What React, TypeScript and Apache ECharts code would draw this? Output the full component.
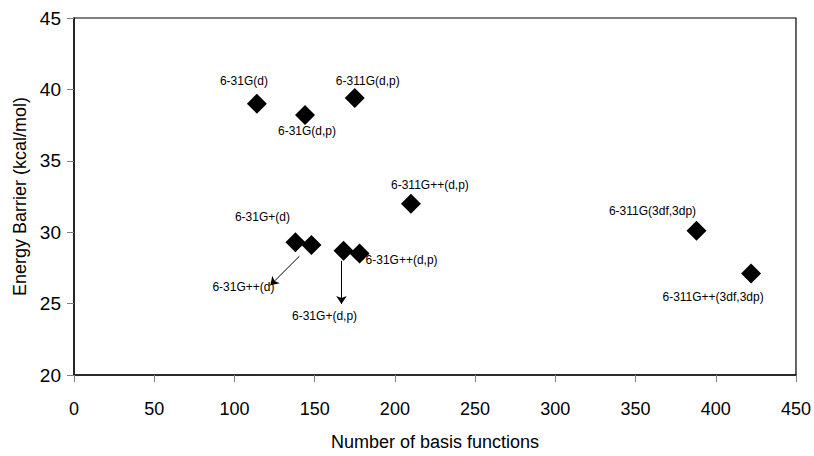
import React, { useEffect, useRef } from "react";
import * as echarts from "echarts";

const basisSets = [
  "6-31G(d)",
  "6-31G(d,p)",
  "6-311G(d,p)",
  "6-311G++(d,p)",
  "6-31G+(d)",
  "6-31G++(d)",
  "6-31G+(d,p)",
  "6-31G++(d,p)",
  "6-311G(3df,3dp)",
  "6-311G++(3df,3dp)",
];
const basisFunctions = [114, 144, 175, 210, 138, 148, 168, 178, 388, 422];
const energyBarrier = [39.0, 38.2, 39.4, 32.0, 29.3, 29.1, 28.7, 28.5, 30.1, 27.1];

// annotation arrows (data coordinates): start -> end
const arrowStartX = [140.5, 166.7];
const arrowStartY = [28.32, 27.99];
const arrowEndX = [122.4, 166.7];
const arrowEndY = [26.29, 24.97];

const xTicks = { min: 0, max: 450, interval: 50 };
const yTicks = { min: 20, max: 45, interval: 5 };

const FONT = "'Liberation Sans', Arial, Helvetica, sans-serif";

export default function App() {
  const ref = useRef<HTMLDivElement>(null);

  useEffect(() => {
    if (!ref.current) return;
    const chart = echarts.init(ref.current, undefined, { renderer: "svg" });

    const labelOffsets: Record<string, [number, number]> = {
      "6-31G(d)": [-13, -23],
      "6-31G(d,p)": [2, 16],
      "6-311G(d,p)": [13, -17],
      "6-311G++(d,p)": [19, -19],
      "6-31G+(d)": [-33, -25],
      "6-31G++(d)": [-68, 42],
      "6-31G+(d,p)": [-19, 65],
      "6-31G++(d,p)": [42, 6],
      "6-311G(3df,3dp)": [-44, -20],
      "6-311G++(3df,3dp)": [-38, 23],
    };

    const data = basisSets.map((name, i) => ({
      name,
      value: [basisFunctions[i], energyBarrier[i]],
      label: {
        show: true,
        formatter: name,
        position: "inside" as const,
        offset: labelOffsets[name],
        color: "#000",
        fontSize: 12,
        fontFamily: FONT,
      },
    }));

    const arrows = arrowStartX.map((_, i) => [
      { coord: [arrowStartX[i], arrowStartY[i]] },
      { coord: [arrowEndX[i], arrowEndY[i]] },
    ]);

    chart.setOption({
      animation: false,
      backgroundColor: "#fff",
      grid: {
        left: 74,
        right: 17,
        top: 18,
        bottom: 80,
        show: true,
        borderColor: "#000",
        borderWidth: 1.2,
        backgroundColor: "#fff",
      },
      xAxis: {
        type: "value",
        min: xTicks.min,
        max: xTicks.max,
        interval: xTicks.interval,
        name: "Number of basis functions",
        nameLocation: "middle",
        nameGap: 58,
        nameTextStyle: { color: "#000", fontSize: 18, fontFamily: FONT },
        axisLine: { show: true, lineStyle: { color: "#111", width: 1.5 } },
        axisTick: { show: true, length: 7, lineStyle: { color: "#808080", width: 1 } },
        axisLabel: { color: "#000", fontSize: 18, fontFamily: FONT, margin: 25 },
        splitLine: { show: false },
      },
      yAxis: {
        type: "value",
        min: yTicks.min,
        max: yTicks.max,
        interval: yTicks.interval,
        name: "Energy Barrier (kcal/mol)",
        nameLocation: "middle",
        nameGap: 40,
        nameTextStyle: { color: "#000", fontSize: 18, fontFamily: FONT },
        axisLine: { show: true, lineStyle: { color: "#111", width: 1.5 } },
        axisTick: { show: true, length: 7, lineStyle: { color: "#808080", width: 1 } },
        axisLabel: { color: "#000", fontSize: 19, fontFamily: FONT, margin: 13 },
        splitLine: { show: false },
      },
      series: [
        {
          type: "scatter",
          symbol: "diamond",
          symbolSize: 20,
          itemStyle: { color: "#000", opacity: 1 },
          data,
          emphasis: { disabled: true },
          markLine: {
            silent: true,
            symbol: ["none", "arrow"],
            symbolSize: 8,
            label: { show: false },
            lineStyle: { color: "#000", width: 1, type: "solid", opacity: 1 },
            emphasis: { disabled: true },
            data: arrows,
          },
        },
      ],
    });

    return () => chart.dispose();
  }, []);

  return (
    <div
      ref={ref}
      style={{ position: "fixed", left: 0, top: 0, width: 814, height: 456, background: "#fff" }}
    />
  );
}
